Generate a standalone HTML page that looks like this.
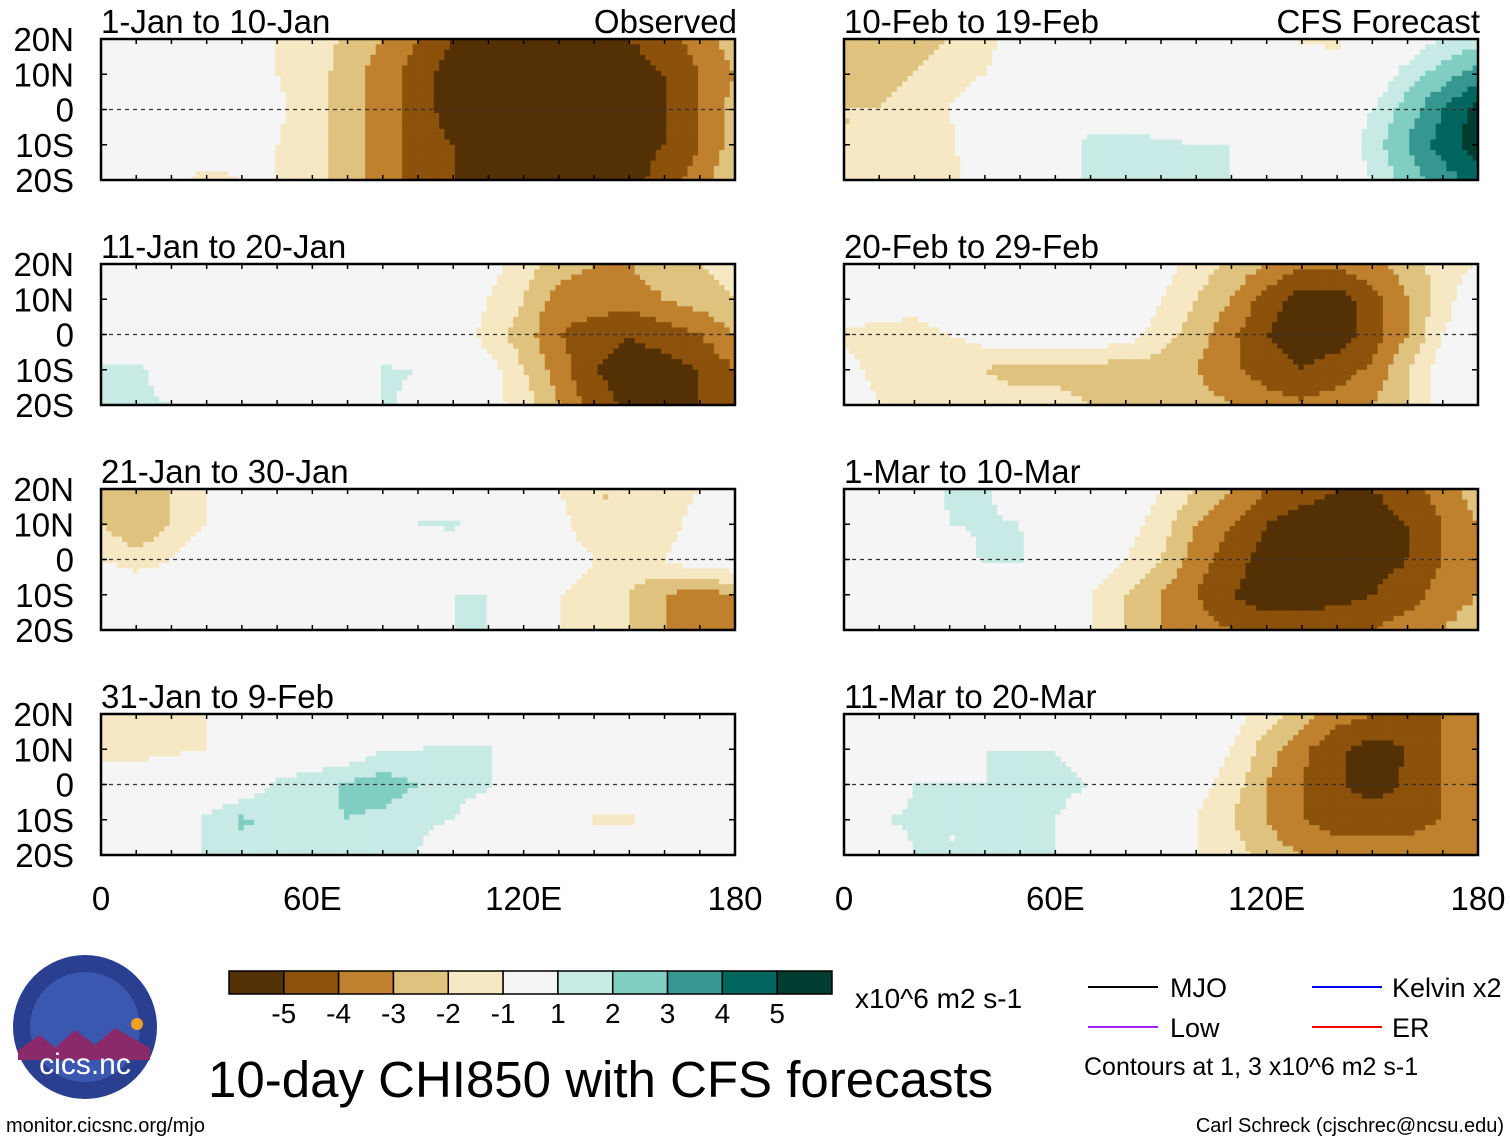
<!DOCTYPE html>
<html><head><meta charset="utf-8">
<style>
body{margin:0;background:#fff;font-family:"Liberation Sans",sans-serif;}
svg text{font-family:"Liberation Sans",sans-serif;}
</style></head>
<body>
<svg id="fig" width="1510" height="1142" viewBox="0 0 1510 1142" xmlns="http://www.w3.org/2000/svg">
<g id="panels"></g>
<g id="cbar"></g>
<text x="855" y="1008" font-size="28">x10^6 m2 s-1</text>
<g>
<line x1="1088" y1="987" x2="1158" y2="987" stroke="#000" stroke-width="2"/>
<text x="1170" y="997" font-size="27">MJO</text>
<line x1="1312" y1="987" x2="1382" y2="987" stroke="#0000ee" stroke-width="2"/>
<text x="1392" y="997" font-size="27">Kelvin x2</text>
<line x1="1088" y1="1027" x2="1158" y2="1027" stroke="#a020f0" stroke-width="2"/>
<text x="1170" y="1037" font-size="27">Low</text>
<line x1="1312" y1="1027" x2="1382" y2="1027" stroke="#ee0000" stroke-width="2"/>
<text x="1392" y="1037" font-size="27">ER</text>
<text x="1084" y="1075" font-size="25">Contours at 1, 3 x10^6 m2 s-1</text>
</g>
<g>
<circle cx="85" cy="1027" r="72" fill="#2a3f8f"/>
<circle cx="85" cy="1027" r="55" fill="#3a58b0"/>
<path d="M18 1050 L40 1035 L55 1048 L75 1030 L95 1045 L115 1028 L150 1048 L150 1060 L18 1060 Z" fill="#8a2a6a"/>
<circle cx="137" cy="1024" r="6" fill="#f0a020"/>
<text x="85" y="1074" font-size="30" fill="#fff" text-anchor="middle">cics.nc</text>
</g>
<text x="208" y="1097" font-size="51">10-day CHI850 with CFS forecasts</text>
<text x="6" y="1132" font-size="20">monitor.cicsnc.org/mjo</text>
<text x="1504" y="1132" font-size="20" text-anchor="end">Carl Schreck (cjschrec@ncsu.edu)</text>
</svg>
<script>
const lonVals=[0,10,20,30,40,50,60,70,80,90,100,110,120,130,140,150,160,170,180];
const latVals=[20,10,0,-10,-20];
const latLabels=["20N","10N","0","10S","20S"];
const lonTicks=[0,60,120,180];
const lonTickLabels=["0","60E","120E","180"];
const cbLevels=[-5,-4,-3,-2,-1,1,2,3,4,5];
const cbColors=["#543005","#8c510a","#bf812d","#dfc27d","#f6e8c3","#f5f5f5","#c7eae5","#80cdc1","#35978f","#01665e","#003c30"];
const titles=["1-Jan to 10-Jan","11-Jan to 20-Jan","21-Jan to 30-Jan","31-Jan to 9-Feb","10-Feb to 19-Feb","20-Feb to 29-Feb","1-Mar to 10-Mar","11-Mar to 20-Mar"];
const p1=[[0,0,-1,-1,-0.5,-1,-1.5,-2.2,-3,-4,-5,-5,-5,-5,-5,-5,-4.5,-3.5,-2.5],[0,-1,-1,0,0,-1,-1.5,-2.5,-3.5,-4.5,-5.5,-5.5,-5.5,-5.5,-5.5,-5.5,-5,-4,-3],[0,0,0,0,0,-0.8,-1.5,-2.5,-3.5,-4.5,-5.5,-5.5,-5.5,-5.5,-5.5,-5.5,-5,-4,-2.5],[0,0,-0.5,0,0,-1,-1.5,-2.5,-3.5,-4.5,-5,-5.5,-5.5,-5.5,-5.5,-5.5,-5,-4,-2.5],[0,0,-0.5,-1.5,-1,-1,-1.5,-2.5,-3.5,-4.5,-5,-5.5,-5.5,-5.5,-5.5,-5.5,-4.5,-3.5,-2]];
const p2=[[0,0,0,0,0,0,0,0,0,0,0,-0.5,-1.5,-2.5,-3,-3,-2.5,-2,-1.5],[0,0,0,0,0,0,0,0,0,0,0,-1,-2,-3.5,-3.5,-3.5,-3,-2.5,-2],[0,0,0,0,0,0,0,0,0,0,0,-1.5,-2.5,-4,-4.5,-5,-4.5,-4,-3],[1.2,1.2,0.5,0,0,0,0,0,1.1,1,0,-0.5,-2,-3.5,-5,-5.5,-5.5,-5,-4],[1.2,1.2,1,0,0,0,0,0,1.1,0.8,0,-0.5,-1.5,-3,-4.5,-5.2,-5.2,-5,-4]];
const p3=[[-2,-2.5,-2,-1,0,0,0,0,0,0.5,0,0,0,-1,-2,-2,-1.5,-1,0],[-2,-3,-2,-1,0,0,0,0,0,1,1.2,0,0,-0.5,-2,-2,-1.5,-0.5,0],[-1,-1.5,-1,0,0,0,0,0,1,0,0,0,0,0,-1,-1.5,-1,0,0],[0,0,0,0,0,0,0,0,0,0,1,1,0,-1,-1.5,-2,-3,-3.5,-3],[0,0,0,0,0,0,0,0,0,1,1,1,0,-1,-1.5,-2,-3,-3.5,-3.5]];
const p4=[[-1.5,-1.5,-1.5,-1,-0.5,0,0,0,0,0,0,0,0,0,0,0,0,0,0],[-1.5,-1.5,-1.2,-1,0,0,0,0,1,1,1.2,1.2,0,0,0,0,0,0,1],[0,0,0,0,0,1.2,1.5,2.2,2.5,2,1.5,1.2,0,0,0,0,0,0,1],[0,0,0,1.2,2.2,1.8,1.8,2,1.8,1.2,1,0,0,0,-1.2,-1.2,0,0,0],[0,0,0,1.2,1.5,1.2,1.2,1,1,1,0,0,0,0,0,0,0,0,0]];
const p5=[[-3,-3,-2.5,-2,-1.5,0,0,0,0,0,0,0,0,-1.2,-1.2,0,0,1.2,1.5],[-3,-2.5,-2,-1.5,-1,0,0,0,0,0,0,0,0,0,-0.5,0,1.5,2.5,3.5],[-2,-2,-1.5,-1,0,0,0,0,0,0,0,0,0,0,0,1,2.5,4,5.5],[-2,-2,-1.5,-1.2,0,0,0,1.5,1.5,1.2,1,1,1,0,0,1.5,3,4.5,5.5],[-1.5,-1.5,-1.5,-1.5,0,0,0,1.2,1.2,1,1,1,0,0,0,1,2.5,3.5,4.5]];
const p6=[[0,0,0,0,0,0,0,0,0,-0.5,-1.5,-2.2,-3,-3.8,-3.8,-3.2,-2.5,-1.5,-1],[0,0,-0.5,0,0,0,0,0,0,-1,-2,-3,-4.5,-5.5,-5.5,-4.5,-3,-1.5,0],[-1.2,-1.5,-1.5,-1,-0.5,0,0,0,-0.5,-1.5,-2.5,-3.8,-5,-5.5,-5.5,-4.5,-3,-1,0],[-0.5,-1.5,-2,-2,-2,-2.5,-2.5,-2.5,-2.5,-2.5,-3,-3.8,-4.5,-5,-4.5,-3.8,-2,-0.5,1],[0,-1,-1.5,-1.5,-1.5,-1.5,-1.5,-2,-2,-2,-2.5,-3,-3.5,-3.8,-3.5,-3,-2,-0.5,0]];
const p7=[[0,0,0,1.2,1.2,0,0,0,0,-1,-2,-3,-4,-4.5,-5,-5,-4.5,-3.5,-2.5],[0,0,0,1,1.2,1,0,0,-0.5,-1.5,-3,-4,-5,-5.5,-5.5,-5.5,-5,-4,-3],[0,0,0,0,1.2,1.2,0,0,-1,-2,-3.5,-4.5,-5.5,-5.5,-5.5,-5.5,-5,-4,-3],[0,0,0,0,0,0,0,-1,-2,-3,-4,-5,-5.5,-5.5,-5.5,-5,-4.5,-3.5,-3],[0,0,0,0,0,0,0,-1,-2,-3,-3.5,-4,-4.5,-4.5,-4,-4,-3.5,-3,-2.5]];
const p8=[[0,0,0,0,0,0,0,0,0,0,0,-0.5,-1.5,-2.5,-3.5,-4,-4,-4,-3.5],[0,0,0,0,1,1,1,0,0,0,0,-1,-2.5,-3.8,-4.8,-5.5,-5,-4,-3.5],[0,0,1,1,1,1.5,1.5,1,0,0,-0.5,-1.5,-3,-4,-4.8,-5.5,-4.8,-4,-3.5],[0,1,1.2,1,1,1.5,1,0,0,-0.5,-1,-2,-3,-4,-4.5,-4.5,-4.5,-4,-3.5],[0,0,1,1,1,1,1,0,0,-0.5,-1,-1.5,-2.5,-3,-3.5,-3.5,-3.5,-3,-3]];
const panelData=[p1,p2,p3,p4,p5,p6,p7,p8];

const NS="http://www.w3.org/2000/svg";
function mk(tag,attrs,parent){const e=document.createElementNS(NS,tag);for(const k in attrs)e.setAttribute(k,attrs[k]);parent.appendChild(e);return e;}
function colorFor(v){let i=0;while(i<cbLevels.length&&v>=cbLevels[i])i++;return cbColors[i];}
const colX=[101,844],W=634,rowY=[39,264,489,714],H=141;
function sample(d,lon,lat){
  const fi=lon/10, fj=(20-lat)/10;
  const i0=Math.min(Math.floor(fi),17), j0=Math.min(Math.floor(fj),3);
  const tx=fi-i0, ty=fj-j0;
  return d[j0][i0]*(1-tx)*(1-ty)+d[j0][i0+1]*tx*(1-ty)+d[j0+1][i0]*(1-tx)*ty+d[j0+1][i0+1]*tx*ty;
}
const root=document.getElementById('panels');
panelData.forEach((d,p)=>{
  const col=p<4?0:1,row=p%4;
  const x0=colX[col],y0=rowY[row];
  const xs=lon=>x0+lon/180*W, ys=lat=>y0+(20-lat)/40*H;
  const g=mk('g',{},root);
  
  
  const step=1.5;
  for(let lon=0;lon<180-0.01;lon+=step){for(let lat=20;lat>-20+0.01;lat-=step){
    const la2=Math.max(lat-step,-20);
    const v=sample(d,lon+step/2,(lat+la2)/2);
    const r=mk('rect',{x:xs(lon).toFixed(2),y:ys(lat).toFixed(2),width:(xs(lon+step)-xs(lon)+0.6).toFixed(2),height:(ys(la2)-ys(lat)+0.6).toFixed(2),fill:colorFor(v)},g);
    
    
  }}
  mk('line',{x1:x0,y1:ys(0),x2:x0+W,y2:ys(0),stroke:'#333','stroke-width':1.3,'stroke-dasharray':'4,4'},g);
  mk('rect',{x:x0,y:y0,width:W,height:H,fill:'none',stroke:'#000','stroke-width':2.5},g);
  for(let lon=0;lon<=180;lon+=10){mk('line',{x1:xs(lon),y1:y0,x2:xs(lon),y2:y0+5,stroke:'#000','stroke-width':1.5},g);mk('line',{x1:xs(lon),y1:y0+H,x2:xs(lon),y2:y0+H-5,stroke:'#000','stroke-width':1.5},g);}
  latVals.forEach((lt,k)=>{
    mk('line',{x1:x0,y1:ys(lt),x2:x0+6,y2:ys(lt),stroke:'#000','stroke-width':1.5},g);
    mk('line',{x1:x0+W,y1:ys(lt),x2:x0+W-6,y2:ys(lt),stroke:'#000','stroke-width':1.5},g);
    if(col===0){
      const t=mk('text',{x:x0-27,y:ys(lt)+12,'font-size':33,'text-anchor':'end'},g);t.textContent=latLabels[k];
      
      
    }
  });
  const tt=mk('text',{x:x0,y:y0-6,'font-size':33},g);tt.textContent=titles[p];
  
  
  if(row===0){const s=mk('text',{x:x0+W+2,y:y0-6,'font-size':33,'text-anchor':'end'},g);s.textContent=col===0?'Observed':'CFS Forecast';
    
    }
  if(row===3){lonTicks.forEach((lo,k)=>{const t=mk('text',{x:xs(lo),y:910,'font-size':33,'text-anchor':'middle'},g);t.textContent=lonTickLabels[k];
    
    });}
});
const cb=document.getElementById('cbar');
const cbx=229,cbw=603,cby=971,cbh=23,bw=cbw/cbColors.length;
cbColors.forEach((c,i)=>{const r=mk('rect',{x:cbx+i*bw,y:cby,width:bw,height:cbh,fill:c,stroke:'#000','stroke-width':1.5},cb);
  
  });
cbLevels.forEach((l,i)=>{const t=mk('text',{x:cbx+(i+1)*bw,y:1023,'font-size':28,'text-anchor':'middle'},cb);t.textContent=String(l);
  
  });
</script>
</body></html>
